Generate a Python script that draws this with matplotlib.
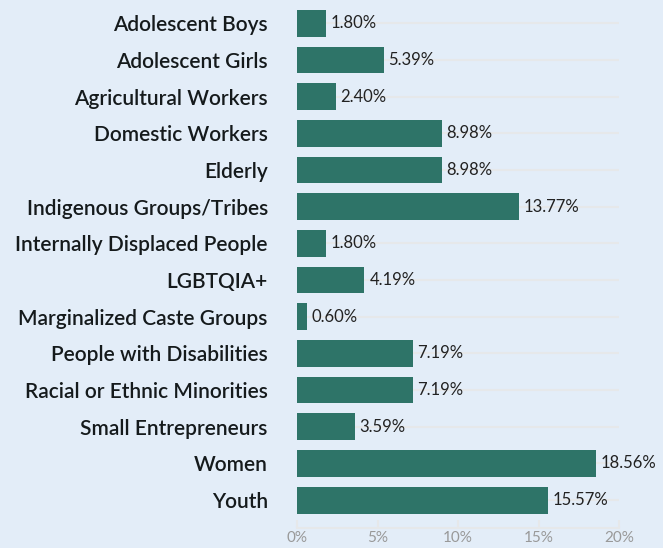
import matplotlib
matplotlib.use("Agg")
import matplotlib.pyplot as plt

categories = [
    "Adolescent Boys", "Adolescent Girls", "Agricultural Workers",
    "Domestic Workers", "Elderly", "Indigenous Groups/Tribes",
    "Internally Displaced People", "LGBTQIA+", "Marginalized Caste Groups",
    "People with Disabilities", "Racial or Ethnic Minorities",
    "Small Entrepreneurs", "Women", "Youth",
]
values = [1.80, 5.39, 2.40, 8.98, 8.98, 13.77, 1.80, 4.19, 0.60,
          7.19, 7.19, 3.59, 18.56, 15.57]
xticks = [0, 5, 10, 15, 20]

bg = "#e3edf8"
bar_color = "#2e7468"
grid_color = "#e6e8ea"

plt.rcParams['font.family'] = ['Lato', 'DejaVu Sans']

fig = plt.figure(figsize=(6.63, 5.48), dpi=100, facecolor=bg)
ax = fig.add_axes([297/663, 20/548, 322/663, 523/548])
ax.set_facecolor(bg)

ypos = list(range(len(categories)))
for y in ypos:
    ax.plot([0, 20], [y, y], color=grid_color, lw=1.5, zorder=1, solid_capstyle='butt')
ax.barh(ypos, values, height=0.73, color=bar_color, zorder=2)

for y, v in zip(ypos, values):
    ax.text(v + 0.3, y, f"{v:.2f}%", va='center', ha='left',
            fontsize=12, color='#222222', zorder=3)

ax.set_xlim(0, 20)
ax.set_ylim(13.76, -0.5)
ax.set_yticks(ypos)
ax.set_yticklabels(categories, fontsize=15, fontweight='semibold', color='#151a1c')
ax.tick_params(axis='y', length=0, pad=21)
ax.set_xticks(xticks)
ax.set_xticklabels([f"{t}%" for t in xticks], fontsize=11, color='#999999')
ax.tick_params(axis='x', direction='in', length=6, width=1.5, color=grid_color, pad=2)

for s in ['top', 'right', 'left']:
    ax.spines[s].set_visible(False)
ax.spines['bottom'].set_color(grid_color)
ax.spines['bottom'].set_linewidth(1.5)

fig.savefig("out.png", dpi=100, facecolor=bg)
